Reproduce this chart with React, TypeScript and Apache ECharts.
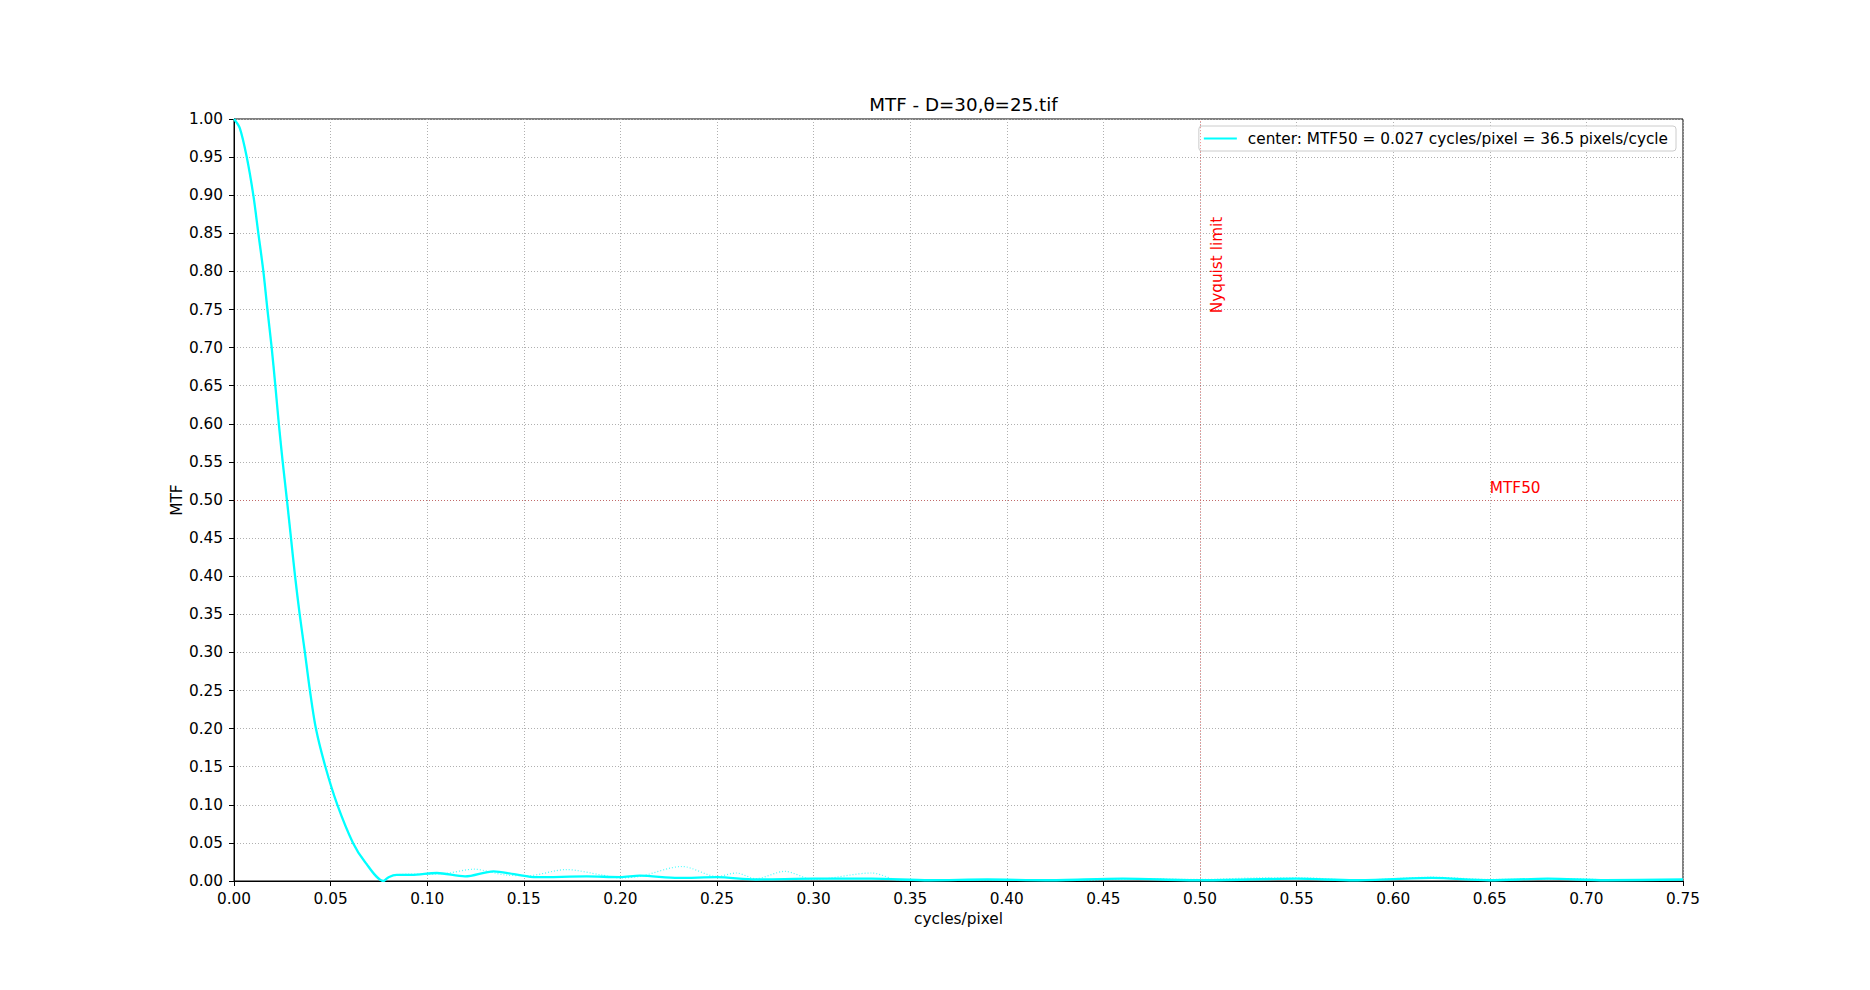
import React, { useEffect, useRef } from 'react';
import * as echarts from 'echarts';

const TITLE = 'MTF - D=30,θ=25.tif';
const X_NAME = 'cycles/pixel';
const Y_NAME = 'MTF';
const LEGEND_LABEL = 'center: MTF50 = 0.027 cycles/pixel = 36.5 pixels/cycle';
const FONT = '"DejaVu Sans", sans-serif';
const FS = 15.3;

// main (smoothed) MTF curve
const centerFreq = [
  0, 0.003, 0.0066, 0.01, 0.0126, 0.0152, 0.0173, 0.0195, 0.0214, 0.0232, 0.0252, 0.0274,
  0.0295, 0.0316, 0.034, 0.0367, 0.0393, 0.0424, 0.0473, 0.0535, 0.0616, 0.0678, 0.0773,
  0.08, 0.0842, 0.092, 0.105, 0.1196, 0.1343, 0.145, 0.1566, 0.1825, 0.1998, 0.21, 0.23,
  0.25, 0.27, 0.3, 0.33, 0.36, 0.39, 0.42, 0.46, 0.5, 0.55, 0.58, 0.62, 0.65, 0.68, 0.71, 0.75,
];
const centerMtf = [
  1.0, 0.988, 0.95, 0.9, 0.85, 0.8, 0.75, 0.7, 0.65, 0.6, 0.55, 0.5,
  0.45, 0.4, 0.35, 0.3, 0.25, 0.2, 0.15, 0.1, 0.05, 0.025, 0.0,
  0.005, 0.008, 0.008, 0.0105, 0.006, 0.0127, 0.009, 0.005, 0.006, 0.0052, 0.007, 0.004,
  0.005, 0.002, 0.003, 0.003, 0.001, 0.002, 0.001, 0.003, 0.001, 0.003, 0.001, 0.004, 0.001, 0.003, 0.001, 0.002,
];

// faint raw MTF curve (dotted)
const rawFreq = [
  0, 0.003, 0.0066, 0.01, 0.0126, 0.0152, 0.0173, 0.0195, 0.0214, 0.0232, 0.0252, 0.0274,
  0.0295, 0.0316, 0.034, 0.0367, 0.0393, 0.0424, 0.0473, 0.0535, 0.0616, 0.068, 0.077,
  0.082, 0.09, 0.1, 0.11, 0.124, 0.14, 0.152, 0.172, 0.19, 0.2, 0.21, 0.232, 0.25, 0.26,
  0.27, 0.285, 0.3, 0.33, 0.345, 0.36, 0.385, 0.41, 0.44, 0.47, 0.5, 0.53, 0.555, 0.58,
  0.62, 0.65, 0.69, 0.72, 0.75,
];
const rawMtf = [
  1.0, 0.988, 0.95, 0.9, 0.85, 0.8, 0.75, 0.7, 0.65, 0.6, 0.55, 0.5,
  0.45, 0.4, 0.35, 0.3, 0.25, 0.2, 0.15, 0.1, 0.05, 0.025, 0.0,
  0.007, 0.009, 0.009, 0.01, 0.0155, 0.008, 0.007, 0.015, 0.008, 0.004, 0.006, 0.019, 0.006, 0.0105,
  0.003, 0.0126, 0.002, 0.0105, 0.001, 0.002, 0.001, 0.002, 0.001, 0.003, 0.002, 0.004, 0.004, 0.001,
  0.005, 0.002, 0.003, 0.001, 0.002,
];

const NYQUIST = 0.5;
const MTF50_LEVEL = 0.5;
const nyquistLabel = { text: 'Nyquist limit', x: 0.505, y: 0.745 };
const mtf50Label = { text: 'MTF50', x: 0.65, y: 0.51 };

const GRID = { left: 234, right: 187, top: 119, bottom: 109 };

export default function App() {
  const ref = useRef<HTMLDivElement>(null);

  useEffect(() => {
    document.body.style.margin = '0';
    if (!ref.current) return;
    const chart = echarts.init(ref.current, undefined, { renderer: 'svg' });

    const gridLine = { show: true, lineStyle: { color: '#b0b0b0', width: 1, type: [1, 2] as any } };
    const refLine = { color: 'rgba(220,0,0,0.4)', width: 1, type: [1, 2] as any };

    chart.setOption({
      animation: false,
      textStyle: { fontFamily: FONT },
      title: {
        text: TITLE,
        left: GRID.left + (1870 - GRID.left - GRID.right) / 2,
        top: 90,
        textAlign: 'center',
        padding: 5,
        textStyle: { fontSize: 18.3, fontWeight: 'normal', color: '#000', fontFamily: FONT },
      },
      legend: {
        data: [{ name: LEGEND_LABEL, icon: 'rect' }],
        right: 194,
        top: 126,
        padding: [5, 8, 5, 5],
        itemWidth: 33,
        itemHeight: 2,
        borderColor: '#cccccc',
        borderWidth: 1,
        borderRadius: 3,
        backgroundColor: 'rgba(255,255,255,0.8)',
        textStyle: { fontSize: FS, color: '#000', fontFamily: FONT, padding: [0, 0, 0, 6] },
      },
      grid: {
        left: GRID.left,
        right: GRID.right,
        top: GRID.top,
        bottom: GRID.bottom,
        show: true,
        borderColor: '#000',
        borderWidth: 1,
      },
      xAxis: {
        type: 'value',
        min: 0,
        max: 0.75,
        interval: 0.05,
        name: X_NAME,
        nameLocation: 'middle',
        nameGap: 30,
        nameMoveOverlap: false,
        nameTextStyle: { fontSize: FS, color: '#000', fontFamily: FONT },
        axisLine: { show: true, onZero: false, lineStyle: { color: '#000', width: 1 } },
        axisTick: { show: true, inside: false, length: 5, lineStyle: { color: '#000' } },
        axisLabel: {
          margin: 10,
          fontSize: FS,
          color: '#000',
          fontFamily: FONT,
          formatter: (v: number) => v.toFixed(2),
          showMinLabel: true,
          showMaxLabel: true,
        },
        splitLine: gridLine,
      },
      yAxis: {
        type: 'value',
        min: 0,
        max: 1,
        interval: 0.05,
        name: Y_NAME,
        nameLocation: 'middle',
        nameRotate: 90,
        nameGap: 50,
        nameMoveOverlap: false,
        nameTextStyle: { fontSize: FS, color: '#000', fontFamily: FONT },
        axisLine: { show: true, onZero: false, lineStyle: { color: '#000', width: 1 } },
        axisTick: { show: true, inside: false, length: 5, lineStyle: { color: '#000' } },
        axisLabel: {
          margin: 11,
          fontSize: FS,
          color: '#000',
          fontFamily: FONT,
          formatter: (v: number) => v.toFixed(2),
          showMinLabel: true,
          showMaxLabel: true,
        },
        splitLine: gridLine,
      },
      series: [
        {
          name: 'raw',
          type: 'line',
          data: rawFreq.map((f, i) => [f, rawMtf[i]]),
          symbol: 'none',
          smooth: 0.3,
          lineStyle: { color: 'rgba(0,255,255,0.7)', width: 1.2, type: [1, 2] as any },
          itemStyle: { color: 'rgba(0,255,255,0.7)' },
          silent: true,
          z: 2,
        },
        {
          name: LEGEND_LABEL,
          type: 'line',
          data: centerFreq.map((f, i) => [f, centerMtf[i]]),
          symbol: 'none',
          smooth: 0.3,
          lineStyle: { color: '#00ffff', width: 2.3 },
          itemStyle: { color: '#00ffff' },
          z: 3,
          markLine: {
            silent: true,
            symbol: 'none',
            label: { show: false },
            lineStyle: refLine,
            data: [{ xAxis: NYQUIST }, { yAxis: MTF50_LEVEL }],
          },
        },
      ],
    });

    const pN = chart.convertToPixel({ gridIndex: 0 }, [nyquistLabel.x, nyquistLabel.y]) as number[];
    const pM = chart.convertToPixel({ gridIndex: 0 }, [mtf50Label.x, mtf50Label.y]) as number[];

    chart.setOption({
      graphic: [
        {
          type: 'text',
          x: pN[0],
          y: pN[1],
          rotation: Math.PI / 2,
          style: {
            text: nyquistLabel.text,
            fill: '#ff0000',
            fontSize: FS,
            fontFamily: FONT,
            align: 'left',
            verticalAlign: 'top',
          },
          z: 10,
        },
        {
          type: 'text',
          x: pM[0],
          y: pM[1] + 3,
          style: {
            text: mtf50Label.text,
            fill: '#ff0000',
            fontSize: FS,
            fontFamily: FONT,
            align: 'left',
            verticalAlign: 'bottom',
          },
          z: 10,
        },
      ],
    });

    return () => chart.dispose();
  }, []);

  return <div ref={ref} style={{ width: 1870, height: 990 }} />;
}
